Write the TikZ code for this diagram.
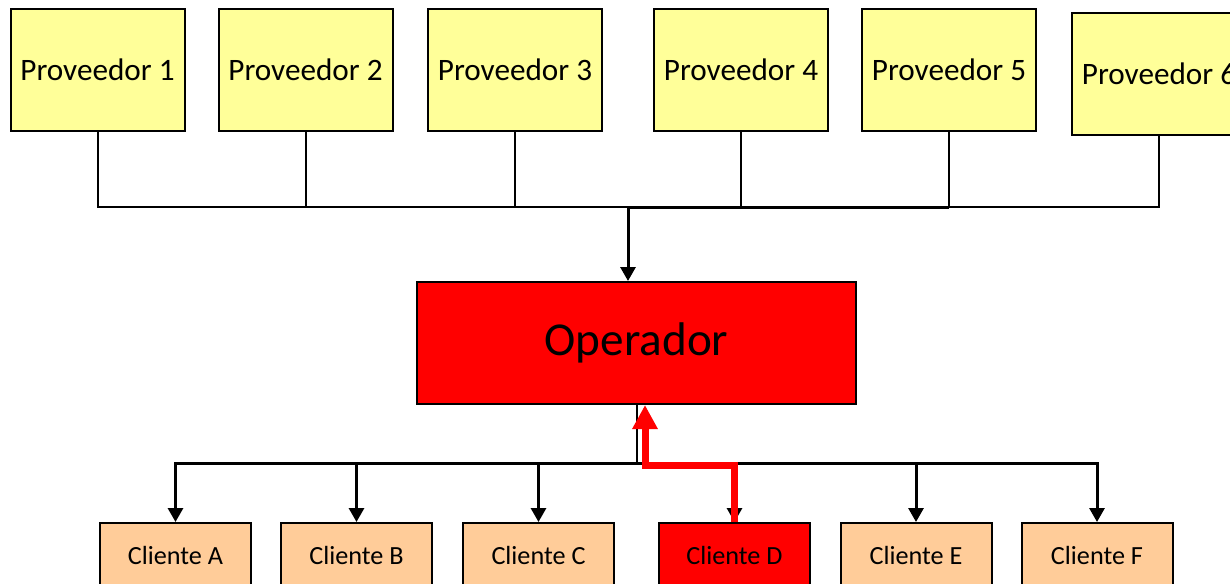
\documentclass[tikz,border=0pt]{standalone}
\usepackage{fontspec}
\setmainfont{Carlito}
\usetikzlibrary{arrows.meta}
\definecolor{provfill}{HTML}{FFFF99}
\definecolor{clifill}{HTML}{FFCC99}
\begin{document}
\begin{tikzpicture}[
    x=0.5pt, y=-0.5pt,
    connector/.style={draw, line width=1pt},
    feed/.style={draw, line width=1.5pt, -{Triangle[length=7pt,width=7.5pt]}},
    order/.style={draw, red, line width=3.5pt, -{Triangle[length=12pt,width=12pt]}},
    provider/.style={rectangle, draw, line width=1pt, fill=provfill, inner sep=0pt,
        minimum width=87pt, minimum height=61pt, font=\fontsize{15.6}{18}\selectfont},
    operator/.style={rectangle, draw, line width=1pt, fill=red, inner sep=0pt,
        minimum width=219.5pt, minimum height=61pt, font=\fontsize{23.6}{28}\selectfont},
    client/.style={rectangle, draw, line width=1pt, fill=clifill, inner sep=0pt,
        minimum width=75.5pt, minimum height=32pt, font=\fontsize{13.1}{16}\selectfont}
]
\useasboundingbox (0,0) rectangle (1230,583);
\clip (0,0) rectangle (1230,583);
% providers
\node (Proveedor01) [provider] at (97.5,70) {Proveedor 1};
\node (Proveedor02) [provider] at (305.5,70) {Proveedor 2};
\node (Proveedor03) [provider] at (515,70) {Proveedor 3};
\node (Proveedor04) [provider] at (741,70) {Proveedor 4};
\node (Proveedor05) [provider] at (949,70) {Proveedor 5};
\node (Proveedor06) [provider] at (1159,74) {Proveedor 6};
% operator
\node (Operador) [operator] at (636.5,343) {Operador};
% clients
\node (ClienteA) [client] at (175.5,555) {Cliente A};
\node (ClienteB) [client] at (356.5,555) {Cliente B};
\node (ClienteC) [client] at (538.5,555) {Cliente C};
\node (ClienteD) [client, fill=red] at (734.5,555) {Cliente D};
\node (ClienteE) [client] at (916,555) {Cliente E};
\node (ClienteF) [client] at (1097,555) {Cliente F};
% supply bus
\coordinate (BusTop) at (628,207);
\draw[connector] (Proveedor01.south) |- (BusTop) -| (Proveedor06.south);
\foreach \n in {02,03,04,05}
  \draw[connector] (Proveedor\n.south) -- (Proveedor\n.south |- BusTop);
\draw[connector, line width=1.5pt] (BusTop) -- (Proveedor05.south |- BusTop);
\draw[feed] (BusTop) -- (BusTop |- Operador.north);
% delivery bus
\coordinate (BusBottom) at (636.5,463);
\draw[connector] (Operador.south) -- (BusBottom);
\draw[feed] (BusBottom) -| (ClienteA.north);
\draw[feed] (BusBottom) -| (ClienteF.north);
\foreach \c in {B,C,D,E}
  \draw[feed] (Cliente\c.north |- BusBottom) -- (Cliente\c.north);
% order from Cliente D
\coordinate (Retorno) at (645,465);
\draw[order] (ClienteD.north) |- (Retorno) -- (Retorno |- Operador.south);
\end{tikzpicture}
\end{document}
